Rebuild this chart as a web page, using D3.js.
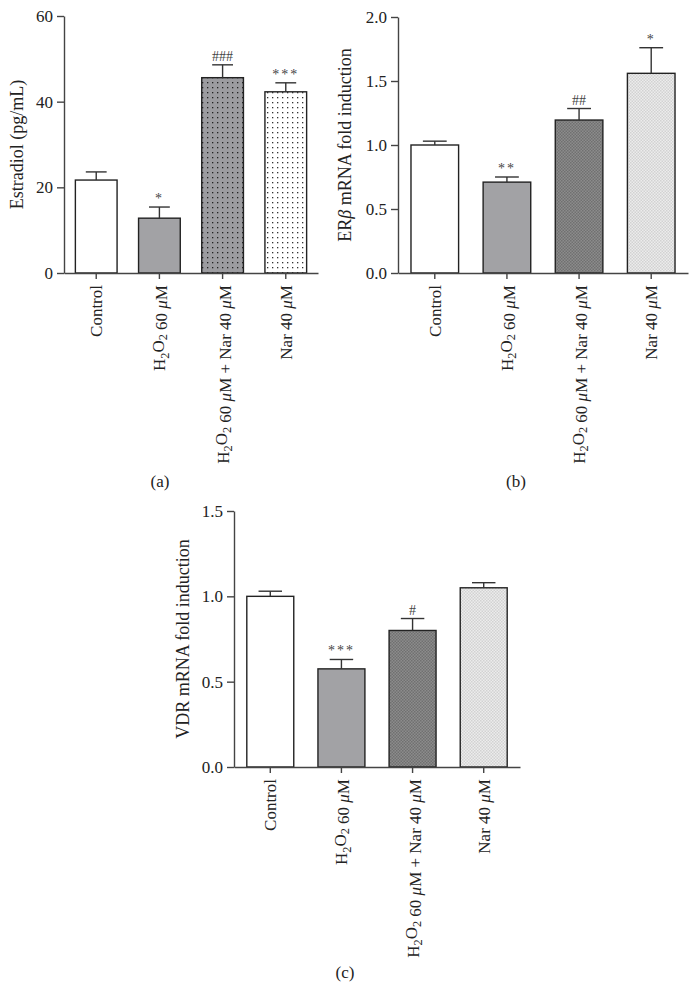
<!DOCTYPE html>
<html>
<head>
<meta charset="utf-8">
<script src="https://cdnjs.cloudflare.com/ajax/libs/d3/7.8.5/d3.min.js"></script>
<style>
  body { margin: 0; background: #fff; }
  svg { display: block; font-family: "Liberation Serif", "DejaVu Serif", serif; }
</style>
</head>
<body>
<div id="chart"></div>
<script>
// groups, same for all three panels
var categories = ["Control", "H2O2 60 μM", "H2O2 60 μM + Nar 40 μM", "Nar 40 μM"];

// (a) estradiol
var estradiolMean = [21.7, 12.8, 45.6, 42.3];
var estradiolErr = [1.9, 2.6, 3.0, 2.1];
var estradiolSig = ["", "*", "###", "***"];
var estradiolTicks = [0, 20, 40, 60];

// (b) ER beta
var erbMean = [1.00, 0.71, 1.195, 1.56];
var erbErr = [0.03, 0.04, 0.09, 0.20];
var erbSig = ["", "**", "##", "*"];
var erbTicks = [0, 0.5, 1.0, 1.5, 2.0];

// (c) VDR
var vdrMean = [1.00, 0.575, 0.80, 1.05];
var vdrErr = [0.03, 0.055, 0.07, 0.03];
var vdrSig = ["", "***", "#", ""];
var vdrTicks = [0, 0.5, 1.0, 1.5];

var svg = d3.select('#chart')
            .append('svg')
            .attr('width', 698)
            .attr('height', 1007);

// fill patterns
var defs = svg.append('defs');

var p = defs.append('pattern').attr('id', 'dotsGray')
            .attr('patternUnits', 'userSpaceOnUse').attr('width', 5).attr('height', 5);
p.append('rect').attr('width', 5).attr('height', 5).attr('fill', '#9c9ca0');
p.append('rect').attr('x', 2).attr('y', 2).attr('width', 1.3).attr('height', 1.3).attr('fill', '#222');

p = defs.append('pattern').attr('id', 'dotsWhite')
        .attr('patternUnits', 'userSpaceOnUse').attr('width', 5).attr('height', 5);
p.append('rect').attr('width', 5).attr('height', 5).attr('fill', '#fff');
p.append('rect').attr('x', 2).attr('y', 2).attr('width', 1.3).attr('height', 1.3).attr('fill', '#333');

p = defs.append('pattern').attr('id', 'checkDark')
        .attr('patternUnits', 'userSpaceOnUse').attr('width', 3).attr('height', 3);
p.append('rect').attr('width', 3).attr('height', 3).attr('fill', '#8c8c8c');
p.append('rect').attr('width', 1.5).attr('height', 1.5).attr('fill', '#707070');
p.append('rect').attr('x', 1.5).attr('y', 1.5).attr('width', 1.5).attr('height', 1.5).attr('fill', '#707070');

p = defs.append('pattern').attr('id', 'checkLight')
        .attr('patternUnits', 'userSpaceOnUse').attr('width', 3).attr('height', 3);
p.append('rect').attr('width', 3).attr('height', 3).attr('fill', '#ececec');
p.append('rect').attr('width', 1.5).attr('height', 1.5).attr('fill', '#d2d2d2');
p.append('rect').attr('x', 1.5).attr('y', 1.5).attr('width', 1.5).attr('height', 1.5).attr('fill', '#d2d2d2');

// write text with H2O2 subscripts and italic mu / beta
function richText(sel, str) {
  var parts = str.split(/(H2O2|μ|β)/);
  parts.forEach(function(s) {
    if (!s) return;
    if (s == 'H2O2') {
      sel.append('tspan').text('H');
      sel.append('tspan').attr('font-size', '0.72em').attr('dy', '0.28em').text('2');
      sel.append('tspan').attr('dy', '-0.28em').text('O');
      sel.append('tspan').attr('font-size', '0.72em').attr('dy', '0.28em').text('2');
      sel.append('tspan').attr('dy', '-0.28em').text('');
    } else if (s == 'μ' || s == 'β') {
      sel.append('tspan').attr('font-style', 'italic').text(s);
    } else {
      sel.append('tspan').text(s);
    }
  });
}

function drawPanel(o) {
  var y = d3.scaleLinear().domain([0, o.max]).range([o.y0, o.y1]);
  var x = d3.scaleBand().domain(categories).range([o.x0, o.x1])
            .paddingInner(0.34).paddingOuter(0.18);

  var g = svg.append('g');

  // y axis
  var ya = g.append('g')
            .attr('transform', 'translate(' + o.x0 + ',0)')
            .call(d3.axisLeft(y).tickValues(o.ticks).tickFormat(o.fmt).tickSize(7).tickSizeOuter(0));
  ya.select('.domain').attr('stroke', '#444').attr('stroke-width', 1.4);
  ya.selectAll('.tick line').attr('stroke', '#444').attr('stroke-width', 1.4);
  ya.selectAll('.tick text').attr('font-size', 17).attr('fill', '#222')
    .attr('font-family', '"Liberation Serif", serif').attr('x', -11);

  // bars
  g.selectAll('rect.bar').data(o.mean).enter()
   .append('rect')
   .attr('class', 'bar')
   .attr('x', function(d, i) { return x(categories[i]); })
   .attr('y', function(d) { return y(d); })
   .attr('width', x.bandwidth())
   .attr('height', function(d) { return y(0) - y(d); })
   .attr('fill', function(d, i) { return o.fills[i]; })
   .attr('stroke', '#222')
   .attr('stroke-width', 1.4);

  // error bars (upper only)
  var cx = function(i) { return x(categories[i]) + x.bandwidth() / 2; };
  var cap = x.bandwidth() / 4;
  o.mean.forEach(function(m, i) {
    var top = y(m + o.err[i]);
    g.append('line').attr('x1', cx(i)).attr('x2', cx(i))
     .attr('y1', y(m)).attr('y2', top)
     .attr('stroke', '#333').attr('stroke-width', 1.4);
    g.append('line').attr('x1', cx(i) - cap).attr('x2', cx(i) + cap)
     .attr('y1', top).attr('y2', top)
     .attr('stroke', '#333').attr('stroke-width', 1.4);
    if (o.sig[i]) {
      g.append('text')
       .attr('x', cx(i)).attr('y', top - 4)
       .attr('text-anchor', 'middle')
       .attr('font-size', 14)
       .attr('letter-spacing', o.sig[i].charAt(0) == '*' ? 2 : 0)
       .attr('fill', '#444')
       .text(o.sig[i]);
    }
  });

  // x axis
  var xa = g.append('g')
            .attr('transform', 'translate(0,' + o.y0 + ')')
            .call(d3.axisBottom(x).tickSize(6).tickSizeOuter(0));
  xa.select('.domain').attr('stroke', '#444').attr('stroke-width', 1.4);
  xa.selectAll('.tick line').attr('stroke', '#444').attr('stroke-width', 1.4);
  xa.selectAll('.tick text').remove();
  xa.selectAll('.tick').each(function(d) {
    var t = d3.select(this).append('text')
              .attr('transform', 'rotate(-90)')
              .attr('x', -12).attr('y', 0).attr('dy', '0.35em')
              .attr('text-anchor', 'end')
              .attr('font-size', 17)
              .attr('font-family', '"Liberation Serif", serif')
              .attr('fill', '#222');
    richText(t, d);
  });

  // y label
  var yl = g.append('text')
            .attr('transform', 'translate(' + o.labelX + ',' + ((o.y0 + o.y1) / 2) + ') rotate(-90)')
            .attr('text-anchor', 'middle')
            .attr('font-size', 18)
            .attr('fill', '#222');
  richText(yl, o.label);

  // panel letter
  g.append('text')
   .attr('x', o.tagX).attr('y', o.tagY)
   .attr('text-anchor', 'middle')
   .attr('font-size', 17)
   .attr('fill', '#222')
   .text(o.tag);
}

drawPanel({
  mean: estradiolMean, err: estradiolErr, sig: estradiolSig, ticks: estradiolTicks,
  max: 60, fmt: d3.format('d'),
  x0: 64, x1: 318, y0: 273, y1: 16,
  fills: ['#fff', '#a2a2a5', 'url(#dotsGray)', 'url(#dotsWhite)'],
  label: 'Estradiol (pg/mL)', labelX: 23,
  tag: '(a)', tagX: 160, tagY: 487
});

drawPanel({
  mean: erbMean, err: erbErr, sig: erbSig, ticks: erbTicks,
  max: 2.0, fmt: d3.format('.1f'),
  x0: 398, x1: 688, y0: 273, y1: 17,
  fills: ['#fff', '#a2a2a5', 'url(#checkDark)', 'url(#checkLight)'],
  label: 'ERβ mRNA fold induction', labelX: 351,
  tag: '(b)', tagX: 516, tagY: 487
});

drawPanel({
  mean: vdrMean, err: vdrErr, sig: vdrSig, ticks: vdrTicks,
  max: 1.5, fmt: d3.format('.1f'),
  x0: 234, x1: 520, y0: 767, y1: 511,
  fills: ['#fff', '#a2a2a5', 'url(#checkDark)', 'url(#checkLight)'],
  label: 'VDR mRNA fold induction', labelX: 189,
  tag: '(c)', tagX: 345, tagY: 978
});
</script>
</body>
</html>
